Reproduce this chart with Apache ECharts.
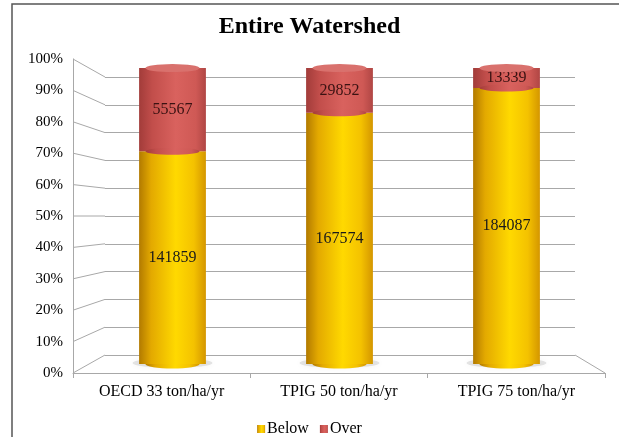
<!DOCTYPE html>
<html>
<head>
<meta charset="utf-8">
<script src="https://cdn.jsdelivr.net/npm/echarts@6/dist/echarts.min.js"></script>
<style>
  html, body { margin: 0; padding: 0; background: #fff; }
  #chart { width: 619px; height: 437px; }
</style>
</head>
<body>
<div id="chart"></div>
<script>
// Soil loss per standard, split into cells below / over the tolerance limit
const categories = ['OECD 33 ton/ha/yr', 'TPIG 50 ton/ha/yr', 'TPIG 75 ton/ha/yr'];
const below = [141859, 167574, 184087];
const over = [55567, 29852, 13339];
const yTicks = [0, 10, 20, 30, 40, 50, 60, 70, 80, 90, 100];

// Share of each part in percent
const belowPct = below.map((v, i) => v / (v + over[i]) * 100);
const overPct = over.map((v, i) => v / (below[i] + v) * 100);
const totalPct = belowPct.map((v, i) => v + overPct[i]);

// Layout of the pseudo-3D box: front plane, back wall, and mid-depth plane for the cylinders
const W = 619, H = 437;
const FRONT = { left: 73, right: 14, top: 59, bottom: 64 };
const BACK = { left: 105, right: 44, top: 77, bottom: 82 };
const MID = { left: 89, right: 29, top: 68, bottom: 73 };

const SERIF = "'Liberation Serif', 'Times New Roman', serif";
const GRID_GRAY = '#A8A8A8';

const yellowGrad = new echarts.graphic.LinearGradient(0, 0, 1, 0, [
  { offset: 0, color: '#B27A00' },
  { offset: 0.18, color: '#E3A900' },
  { offset: 0.55, color: '#FFD900' },
  { offset: 0.82, color: '#F4C200' },
  { offset: 1, color: '#D49600' }
]);
const redGrad = new echarts.graphic.LinearGradient(0, 0, 1, 0, [
  { offset: 0, color: '#A23C3A' },
  { offset: 0.2, color: '#C24E4B' },
  { offset: 0.55, color: '#D9625E' },
  { offset: 0.85, color: '#CF5955' },
  { offset: 1, color: '#B04644' }
]);

const valueAxis = (idx, extra) => Object.assign({
  type: 'value', gridIndex: idx, min: 0, max: 100, interval: 10
}, extra);

const option = {
  animation: false,
  title: {
    text: 'Entire Watershed',
    left: 'center',
    top: 10,
    textStyle: { fontFamily: SERIF, fontSize: 24, fontWeight: 'bold', color: '#000' }
  },
  legend: {
    data: ['Below', 'Over'],
    top: 416,
    left: 'center',
    icon: 'rect',
    itemWidth: 8,
    itemHeight: 8,
    itemGap: 11,
    textStyle: { fontFamily: SERIF, fontSize: 16, color: '#000', padding: [0, 0, 0, -3] }
  },
  grid: [
    Object.assign({ containLabel: false }, FRONT),
    Object.assign({ containLabel: false }, BACK),
    Object.assign({ containLabel: false }, MID)
  ],
  xAxis: [
    {
      type: 'category', gridIndex: 0, data: categories,
      axisLine: { show: true, lineStyle: { color: GRID_GRAY, width: 1 } },
      axisTick: { show: true, length: 5, lineStyle: { color: GRID_GRAY } },
      axisLabel: { fontFamily: SERIF, fontSize: 16, color: '#000', margin: 11 }
    },
    { type: 'category', gridIndex: 1, data: categories, show: false },
    { type: 'category', gridIndex: 2, data: categories, show: false }
  ],
  yAxis: [
    valueAxis(0, {
      axisLine: { show: true, lineStyle: { color: GRID_GRAY, width: 1 } },
      axisTick: { show: false },
      splitLine: { show: false },
      axisLabel: {
        formatter: '{value}%', fontFamily: SERIF, fontSize: 15, color: '#000', margin: 10
      }
    }),
    valueAxis(1, {
      axisLine: { show: false },
      axisTick: { show: false },
      axisLabel: { show: false },
      splitLine: { show: true, lineStyle: { color: GRID_GRAY, width: 1 } }
    }),
    valueAxis(2, { show: false })
  ],
  series: [
    {
      // soft shadow under each cylinder
      type: 'pictorialBar', xAxisIndex: 2, yAxisIndex: 2,
      symbol: 'circle', symbolSize: [80, 10], symbolPosition: 'start', symbolOffset: [0, '40%'],
      itemStyle: { color: 'rgba(150,150,150,0.25)', shadowBlur: 6, shadowColor: 'rgba(0,0,0,0.2)' },
      data: belowPct, z: 1, silent: true, legendHoverLink: false
    },
    {
      // rounded cylinder base
      type: 'pictorialBar', xAxisIndex: 2, yAxisIndex: 2,
      symbol: 'circle', symbolSize: ['40%', 9], symbolPosition: 'start', symbolOffset: [0, '50%'],
      itemStyle: { color: yellowGrad },
      data: belowPct, z: 2, silent: true, legendHoverLink: false
    },
    {
      name: 'Below', type: 'bar', stack: 'share', xAxisIndex: 2, yAxisIndex: 2,
      barWidth: '40%',
      itemStyle: { color: yellowGrad },
      label: {
        show: true, position: 'inside', fontFamily: SERIF, fontSize: 16, color: '#1a1a1a',
        formatter: p => String(below[p.dataIndex])
      },
      data: belowPct, z: 3
    },
    {
      name: 'Over', type: 'bar', stack: 'share', xAxisIndex: 2, yAxisIndex: 2,
      barWidth: '40%',
      itemStyle: { color: redGrad },
      label: {
        show: true, position: 'inside', fontFamily: SERIF, fontSize: 16, color: '#3a1212',
        formatter: p => String(over[p.dataIndex])
      },
      data: overPct, z: 3
    },
    {
      // curved seam where the red part sits on the yellow part
      type: 'pictorialBar', xAxisIndex: 2, yAxisIndex: 2,
      symbol: 'circle', symbolSize: ['40%', 7], symbolPosition: 'end', symbolOffset: [0, '-50%'],
      itemStyle: { color: redGrad },
      data: belowPct, z: 4, silent: true, legendHoverLink: false
    },
    {
      // cylinder top face
      type: 'pictorialBar', xAxisIndex: 2, yAxisIndex: 2,
      symbol: 'circle', symbolSize: ['40%', 8], symbolPosition: 'end', symbolOffset: [0, '-50%'],
      itemStyle: { color: '#D9716D', borderColor: '#C25955', borderWidth: 0.5 },
      data: totalPct, z: 5, silent: true, legendHoverLink: false
    }
  ]
};

const chart = echarts.init(document.getElementById('chart'), null, { renderer: 'canvas' });
chart.setOption(option);

// Perspective connectors from the front axis to the back wall, plus the floor edge and frame
const lineStyle = { stroke: GRID_GRAY, lineWidth: 1 };
const elements = yTicks.map(v => {
  const yF = chart.convertToPixel({ yAxisIndex: 0 }, v);
  const yB = chart.convertToPixel({ yAxisIndex: 1 }, v);
  return {
    type: 'line', silent: true, z: 0,
    shape: { x1: FRONT.left, y1: yF, x2: BACK.left, y2: yB },
    style: lineStyle
  };
});
const yF0 = chart.convertToPixel({ yAxisIndex: 0 }, 0);
const yB0 = chart.convertToPixel({ yAxisIndex: 1 }, 0);
elements.push({
  type: 'line', silent: true, z: 0,
  shape: { x1: W - FRONT.right, y1: yF0, x2: W - BACK.right, y2: yB0 },
  style: lineStyle
});
elements.push({
  type: 'rect', silent: true, z: 0,
  shape: { x: 12, y: 4, width: W + 20, height: H + 20 },
  style: { fill: 'none', stroke: '#555', lineWidth: 1.5 }
});
chart.setOption({ graphic: elements });
</script>
</body>
</html>
